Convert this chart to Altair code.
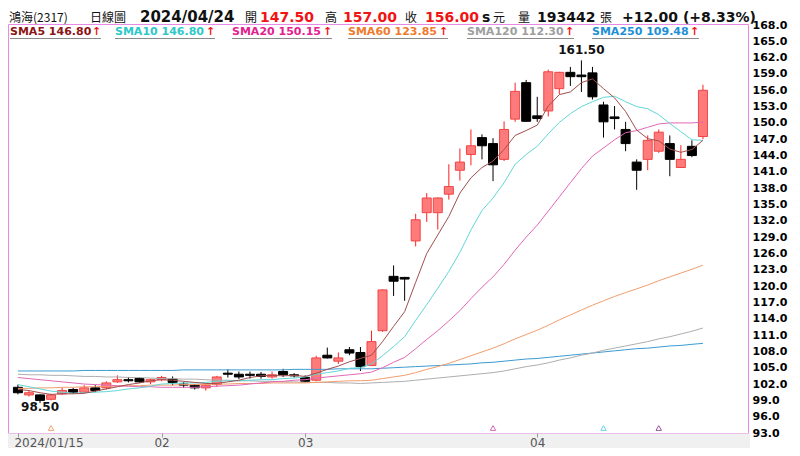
import altair as alt
import pandas as pd

# ------------------------------------------------------------------ data
days = list(range(63))
opens = [101.4, 100.0, 100.0, 99.2, 100.2, 101.0, 100.5, 101.3, 101.3, 102.4,
         102.8, 103.0, 102.4, 102.8, 102.9, 102.0, 101.8, 101.3, 101.9, 104.0,
         103.8, 103.8, 103.8, 103.3, 104.3, 103.7, 103.2, 102.7, 107.3, 106.2,
         108.3, 107.8, 105.4, 111.8, 121.8, 121.6, 128.3, 133.5, 133.5, 136.9,
         141.3, 144.2, 147.3, 146.2, 143.3, 150.7, 157.4, 151.3, 152.2, 156.3,
         159.3, 158.8, 159.2, 153.3, 151.1, 148.8, 142.8, 143.3, 144.8, 146.2,
         141.8, 145.7, 147.5]
highs = [101.9, 100.8, 100.1, 100.2, 101.3, 101.3, 101.8, 101.8, 102.5, 103.6,
         103.3, 103.2, 103.0, 103.5, 103.4, 102.4, 102.0, 102.0, 103.5, 104.7,
         104.3, 104.3, 104.2, 104.3, 104.8, 104.0, 103.6, 107.2, 108.7, 107.8,
         108.8, 108.8, 111.8, 119.4, 123.8, 121.7, 133.3, 137.1, 136.3, 142.4,
         145.3, 148.8, 147.9, 147.2, 150.3, 157.4, 157.9, 154.8, 159.8, 159.4,
         160.3, 161.5, 160.3, 153.9, 153.1, 150.2, 143.3, 147.7, 148.8, 147.7,
         145.9, 146.8, 157.0]
lows = [100.1, 99.7, 98.5, 99.0, 100.0, 100.2, 100.3, 100.5, 101.0, 102.2,
        102.3, 102.2, 102.0, 102.5, 101.8, 101.3, 101.0, 100.8, 101.5, 103.2,
        102.9, 103.0, 103.0, 103.0, 103.3, 103.2, 102.3, 102.5, 106.7, 105.7,
        107.3, 104.4, 105.3, 111.6, 118.2, 117.3, 127.3, 131.8, 130.4, 135.9,
        139.4, 142.2, 143.3, 139.3, 143.0, 150.2, 150.2, 150.2, 151.2, 155.3,
        156.8, 155.7, 154.3, 147.3, 148.8, 144.8, 137.7, 141.3, 144.5, 140.2,
        141.8, 143.7, 147.0]
closes = [100.4, 100.4, 99.0, 100.0, 100.8, 100.5, 101.3, 100.8, 102.2, 102.8,
          102.6, 102.4, 102.8, 103.2, 102.3, 101.8, 101.3, 101.8, 103.3, 103.8,
          103.3, 103.6, 103.4, 103.7, 103.7, 103.5, 102.5, 106.8, 106.8, 106.8,
          107.7, 105.2, 109.8, 119.3, 120.9, 121.3, 132.2, 136.2, 136.2, 138.3,
          142.8, 145.8, 145.8, 142.3, 148.8, 155.8, 150.3, 150.8, 159.4, 159.3,
          158.5, 158.5, 154.8, 150.2, 150.8, 146.2, 141.3, 146.8, 148.3, 143.3,
          143.3, 144.0, 156.0]

sma5 = [101.0, 100.8, 100.4, 100.1, 100.2, 100.2, 100.3, 100.7, 101.1, 101.5,
        101.9, 102.2, 102.6, 102.8, 102.7, 102.5, 102.3, 102.1, 102.1, 102.4,
        102.7, 103.2, 103.5, 103.6, 103.5, 103.6, 103.4, 104.0, 104.7, 105.3,
        106.1, 106.7, 107.3, 109.8, 112.6, 115.3, 120.7, 126.0, 129.4, 132.8,
        137.1, 139.9, 141.8, 143.0, 145.1, 147.7, 148.6, 149.6, 153.1, 155.2,
        155.7, 157.4, 158.1, 156.3, 154.6, 152.1, 148.7, 147.1, 146.7, 145.2,
        144.6, 145.1, 146.8]
sma10 = [101.9, 101.5, 101.1, 100.7, 100.5, 100.3, 100.4, 100.5, 100.6, 100.8,
         101.1, 101.3, 101.6, 102.0, 102.1, 102.2, 102.2, 102.3, 102.5, 102.6,
         102.6, 102.7, 102.8, 102.8, 103.0, 103.1, 103.3, 103.8, 104.1, 104.4,
         104.9, 105.0, 105.7, 107.2, 108.9, 110.7, 113.7, 116.6, 119.6, 122.7,
         126.2, 130.3, 133.9, 136.2, 139.0, 142.4, 144.2, 145.7, 148.0, 150.1,
         151.7, 153.0, 153.9, 154.7, 154.9, 153.9, 153.0, 152.6, 151.5, 149.9,
         148.4, 146.9, 146.8]
sma20 = [103.2, 103.0, 102.8, 102.6, 102.4, 102.2, 102.0, 101.9, 101.8, 101.7,
         101.6, 101.5, 101.5, 101.4, 101.4, 101.4, 101.4, 101.5, 101.6, 101.7,
         101.8, 102.0, 102.2, 102.4, 102.5, 102.7, 102.8, 103.1, 103.3, 103.5,
         103.7, 103.9, 104.2, 105.0, 106.0, 106.9, 108.5, 110.2, 111.8, 113.6,
         115.5, 117.7, 119.8, 121.7, 124.0, 126.6, 129.0, 131.2, 133.8, 136.4,
         139.0, 141.6, 143.9, 145.4, 146.9, 148.2, 148.6, 149.2, 149.8, 150.0,
         150.0, 150.0, 150.15]
sma60 = [101.2, 101.2, 101.3, 101.3, 101.4, 101.4, 101.5, 101.5, 101.6, 101.6,
         101.7, 101.7, 101.8, 101.8, 101.8, 101.9, 101.9, 101.9, 102.0, 102.0,
         102.1, 102.1, 102.1, 102.2, 102.2, 102.2, 102.2, 102.3, 102.4, 102.5,
         102.6, 102.6, 102.7, 103.0, 103.3, 103.6, 104.1, 104.7, 105.2, 105.8,
         106.5, 107.2, 107.9, 108.6, 109.4, 110.3, 111.1, 111.9, 112.8, 113.8,
         114.7, 115.6, 116.5, 117.3, 118.1, 118.8, 119.5, 120.2, 121.0, 121.7,
         122.4, 123.1, 123.85]
sma120 = [103.8, 103.7, 103.7, 103.6, 103.6, 103.5, 103.4, 103.4, 103.3, 103.3,
          103.2, 103.2, 103.1, 103.0, 103.0, 102.9, 102.9, 102.8, 102.7, 102.7,
          102.6, 102.6, 102.5, 102.5, 102.4, 102.4, 102.3, 102.3, 102.3, 102.2,
          102.2, 102.1, 102.2, 102.3, 102.4, 102.5, 102.7, 102.9, 103.1, 103.3,
          103.5, 103.7, 103.9, 104.1, 104.4, 104.8, 105.2, 105.5, 105.9, 106.4,
          106.8, 107.3, 107.7, 108.2, 108.6, 109.0, 109.4, 109.8, 110.3, 110.7,
          111.2, 111.7, 112.3]
sma250 = [104.4, 104.4, 104.4, 104.4, 104.4, 104.4, 104.5, 104.5, 104.5, 104.5,
          104.5, 104.5, 104.5, 104.5, 104.5, 104.6, 104.6, 104.6, 104.6, 104.6,
          104.6, 104.6, 104.6, 104.6, 104.6, 104.7, 104.7, 104.7, 104.7, 104.8,
          104.8, 104.8, 104.8, 104.9, 105.0, 105.1, 105.2, 105.3, 105.4, 105.5,
          105.6, 105.7, 105.9, 106.0, 106.2, 106.4, 106.6, 106.7, 106.9, 107.1,
          107.3, 107.5, 107.7, 107.9, 108.1, 108.3, 108.5, 108.6, 108.8, 109.0,
          109.1, 109.3, 109.48]

sma_names = ["SMA5", "SMA10", "SMA20", "SMA60", "SMA120", "SMA250"]
sma_last = [146.80, 146.80, 150.15, 123.85, 112.30, 109.48]
sma_series = [sma5, sma10, sma20, sma60, sma120, sma250]

x_tick_days = [0, 13, 26, 47]
x_tick_labels = ["2024/01/15", "02", "03", "04"]
y_ticks = [93.0, 96.0, 99.0, 102.0, 105.0, 108.0, 111.0, 114.0, 117.0, 120.0,
           123.0, 126.0, 129.0, 132.0, 135.0, 138.0, 141.0, 144.0, 147.0, 150.0,
           153.0, 156.0, 159.0, 162.0, 165.0, 168.0]

signal_days = [3, 43, 53, 58]
signal_colors = ["#F2A272", "#D46CB4", "#6CD2E6", "#94569A"]

hi_day, hi_val = 51, 161.50
lo_day, lo_val = 2, 98.50

header_cjk = ["鴻海(2317)", "日線圖", "開", "高", "收", "元", "量", "張"]
header_red = ["147.50", "157.00", "156.00"]
header_date = "2024/04/24"
header_black = ["s", "193442", "+12.00 (+8.33%)"]

# ------------------------------------------------------------------ layout / style
SMA_TEXT_COLORS = ["#8B1414", "#2EC8C8", "#E2228F", "#F07A2C", "#9E9E9E", "#1E8FD5"]
SMA_LINE_COLORS = ["#A04E4E", "#62D6D6", "#E268B6", "#F29E6E", "#AEAEAE", "#3C9BD2"]
sma_text_px = [10, 115, 232, 348, 467, 592]
sma_arrow_px = [92, 206, 323, 439, 565, 690]

cjk_px = [9, 90, 245, 325, 405, 493, 518, 600]
red_px = [260, 343, 425]
black_px = [482, 537, 622]
date_px = 140

OX, OY = 8, 24          # page position of the plot's top-left corner
W, H = 740, 409         # plot spans page x 8..748, y 24..433

df = pd.DataFrame({"day": days, "open": opens, "high": highs,
                   "low": lows, "close": closes})
df["dir"] = ["up" if c >= o else "down" for o, c in zip(opens, closes)]

label_expr = " : ".join(
    f"datum.value == {d} ? '{t}'" for d, t in zip(x_tick_days, x_tick_labels)
) + " : ''"

xs = alt.Scale(domain=[-0.4464, 65.625], nice=False, zero=False)
ys = alt.Scale(domain=[93, 168.184], nice=False, zero=False)

first_test = f"datum.value == {x_tick_days[0]}"
x_axis = alt.Axis(values=x_tick_days, labelExpr=label_expr, title=None, grid=False,
                  domain=False, ticks=True, tickSize=4, tickColor="#9a9a9a",
                  labelColor="#555555", labelFont="DejaVu Sans", labelFontSize=12,
                  labelPadding=0, labelFlush=False, labelOverlap=False,
                  labelAlign={"condition": {"test": first_test, "value": "left"},
                              "value": "center"},
                  labelOffset={"condition": {"test": first_test, "value": -4},
                               "value": 0},
                  zindex=1)
y_axis = alt.Axis(orient="right", values=y_ticks, format=".1f", title=None,
                  grid=False, domain=False, ticks=False, labelPadding=4,
                  labelFont="DejaVu Sans", labelFontWeight="bold", labelFontSize=11,
                  labelColor="#000000", labelOverlap=False, labelFlush=False, zindex=1)

X = alt.X("day:Q", scale=xs, axis=x_axis)


def Y(field):
    return alt.Y(f"{field}:Q", scale=ys, axis=y_axis)


one = pd.DataFrame({"k": [0]})


def txt(text, px, py, color, size, font="DejaVu Sans", weight="bold", align="left",
        baseline="alphabetic"):
    return alt.Chart(pd.DataFrame({"t": [text]})).mark_text(
        font=font, fontSize=size, fontWeight=weight, align=align,
        baseline=baseline, color=color
    ).encode(text="t:N", x=alt.value(px - OX), y=alt.value(py - OY))


layers = []

# bottom grey strip below the frame
layers.append(alt.Chart(one).mark_rect(color="#F0F0F0").encode(
    x=alt.value(0), x2=alt.value(W + 2), y=alt.value(H + 0.5), y2=alt.value(H + 16)))

# wicks
layers.append(alt.Chart(df).mark_rule(strokeWidth=1).encode(
    x=X, y=Y("low"), y2="high:Q",
    color=alt.Color("dir:N", scale=alt.Scale(domain=["up", "down"],
                                             range=["#FF1E1E", "#000000"]),
                    legend=None)))
# bodies
layers.append(alt.Chart(df).mark_bar(size=9, strokeWidth=1, opacity=1).encode(
    x=X, y=Y("open"), y2="close:Q",
    fill=alt.Fill("dir:N", scale=alt.Scale(domain=["up", "down"],
                                           range=["#FF7B7B", "#000000"]),
                  legend=None),
    stroke=alt.Stroke("dir:N", scale=alt.Scale(domain=["up", "down"],
                                               range=["#F04444", "#000000"]),
                      legend=None)))

# moving averages (longest first so SMA5 ends on top)
for name, vals, col in reversed(list(zip(sma_names, sma_series, SMA_LINE_COLORS))):
    d = pd.DataFrame({"day": days, "value": vals})
    layers.append(alt.Chart(d).mark_line(strokeWidth=1, color=col).encode(
        x=X, y=Y("value")))

# signal triangles at the bottom
sig = pd.DataFrame({"day": signal_days, "c": signal_colors})
layers.append(alt.Chart(sig).mark_point(shape="triangle-up", filled=False, size=30,
                                        strokeWidth=1, opacity=1).encode(
    x=X, y=alt.value(428 - OY), color=alt.Color("c:N", scale=None)))

# high / low annotations
hl = pd.DataFrame({"day": [hi_day], "value": [hi_val], "t": [f"{hi_val:.2f}"]})
layers.append(alt.Chart(hl).mark_text(font="DejaVu Sans", fontWeight="bold",
                                      fontSize=12, baseline="bottom", dy=-3,
                                      color="#111111").encode(
    x=X, y=Y("value"), text="t:N"))
ll = pd.DataFrame({"day": [lo_day], "value": [lo_val], "t": [f"{lo_val:.2f}"]})
layers.append(alt.Chart(ll).mark_text(font="DejaVu Sans", fontWeight="bold",
                                      fontSize=12, baseline="top", dy=-1,
                                      color="#111111").encode(
    x=X, y=Y("value"), text="t:N"))

# header row (above the frame)
HB = 22
for t, px in zip(header_cjk, cjk_px):
    layers.append(txt(t, px, HB, "#111111", 12, font="Noto Sans CJK TC", weight="normal"))
for t, px in zip(header_red, red_px):
    layers.append(txt(t, px, HB, "#F01414", 14))
layers.append(txt(header_date, date_px, HB, "#111111", 15))
for t, px in zip(header_black, black_px):
    layers.append(txt(t, px, HB, "#111111", 14))

# SMA legend row (inside the frame)
LB = 35
for name, v, col, px, ax in zip(sma_names, sma_last, SMA_TEXT_COLORS,
                                sma_text_px, sma_arrow_px):
    layers.append(txt(f"{name} {v:.2f}", px, LB, col, 11))
    layers.append(txt("↑", ax, LB, "#F01414", 11))
    layers.append(alt.Chart(one).mark_rule(color="#8a8a8a", strokeWidth=1).encode(
        x=alt.value(px - OX), x2=alt.value(ax + 9 - OX), y=alt.value(38.5 - OY)))

chart = alt.layer(*layers).properties(
    width=W, height=H,
    autosize=alt.AutoSizeParams(type="none"),
    padding={"left": 0, "top": 16, "right": 44, "bottom": 15},
    background="white",
).configure_view(stroke="#E68AE6", strokeWidth=1)

chart.save("out.html", embed_options={"renderer": "svg", "actions": False})
